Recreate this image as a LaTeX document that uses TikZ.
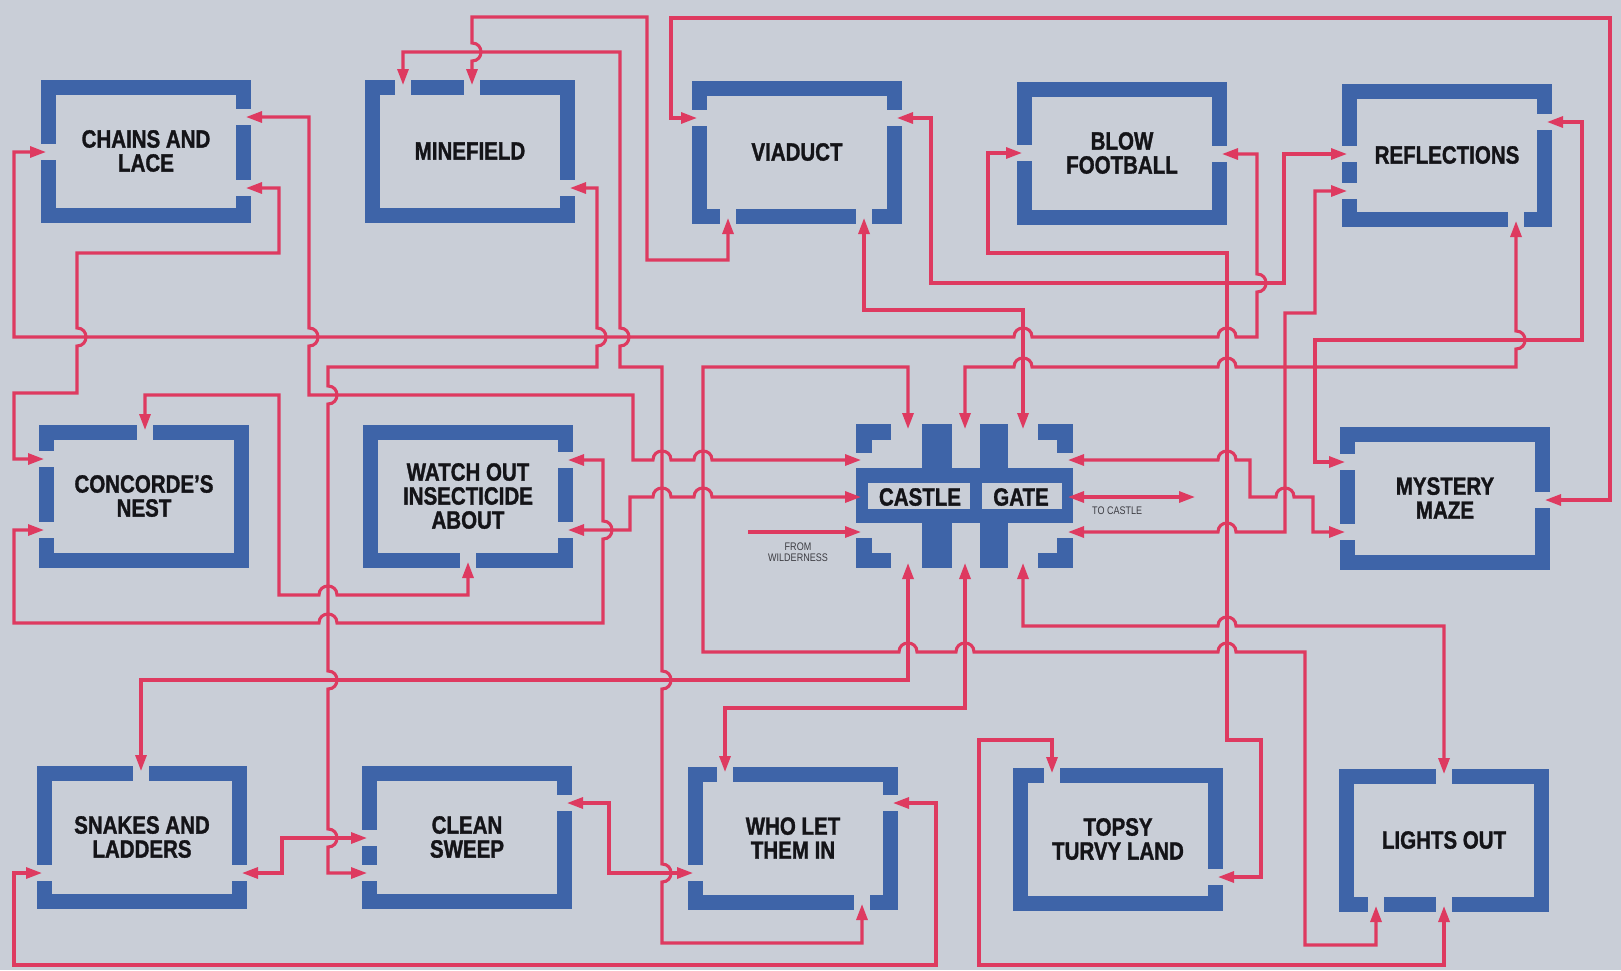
\documentclass[tikz,border=0pt]{standalone}
\usepackage{fontspec}
\setmainfont{Liberation Sans}
\newfontfamily\condfont{Liberation Sans}[FakeStretch=0.82, BoldFeatures={FakeBold=1.3}]
\usetikzlibrary{arrows.meta}
\definecolor{bgc}{RGB}{201,206,215}
\definecolor{boxblue}{RGB}{62,100,168}
\definecolor{wire}{RGB}{222,58,96}
\definecolor{ink}{RGB}{20,20,24}
\definecolor{greyink}{RGB}{60,60,66}
\newcommand\gapv[2]{\fill[bgc] ({#1-10},{#2-8}) rectangle ({#1+10},{#2+8});}
\newcommand\gaph[2]{\fill[bgc] ({#1-8},{#2-10}) rectangle ({#1+8},{#2+10});}
\newcommand\hopR[2]{-- ({#1-9},#2) .. controls ({#1-9},{#2-12}) and ({#1+9},{#2-12}) .. ({#1+9},#2)}
\newcommand\hopL[2]{-- ({#1+9},#2) .. controls ({#1+9},{#2-12}) and ({#1-9},{#2-12}) .. ({#1-9},#2)}
\newcommand\hopD[2]{-- (#1,{#2-9}) .. controls ({#1+12},{#2-9}) and ({#1+12},{#2+9}) .. (#1,{#2+9})}
\newcommand\hopU[2]{-- (#1,{#2+9}) .. controls ({#1+12},{#2+9}) and ({#1+12},{#2-9}) .. (#1,{#2-9})}
\begin{document}
\begin{tikzpicture}[x=1pt,y=-1pt,
  room/.style={draw=boxblue, line width=15pt, minimum width=195pt, minimum height=128pt, inner sep=0pt, align=center, text=ink, font=\condfont\bfseries\fontsize{25}{24}\selectfont},
  gatetext/.style={inner sep=0pt, text=ink, font=\condfont\bfseries\fontsize{25}{24}\selectfont},
  wireline/.style={draw=wire, line width=3.1pt, line join=miter},
  dbl/.style={wireline, {Triangle[length=16pt,width=11pt]}-{Triangle[length=16pt,width=11pt]}},
  sgl/.style={wireline, -{Triangle[length=16pt,width=11pt]}},
  small/.style={text=greyink, font=\condfont\fontsize{11}{11}\selectfont, align=center, inner sep=0pt}
]
\useasboundingbox (0,0) rectangle (1621,970);
\fill[bgc] (0,0) rectangle (1621,970);

% rooms
\node[room] (chains) at (146,151) {CHAINS AND\\LACE};
\node[room] (minefield) at (470,151) {MINEFIELD};
\node[room] (viaduct) at (797,152) {VIADUCT};
\node[room] (blow) at (1122,153) {BLOW\\FOOTBALL};
\node[room] (reflections) at (1447,155) {REFLECTIONS};
\node[room] (concorde) at (144,496) {CONCORDE’S\\NEST};
\node[room] (watch) at (468,496) {WATCH OUT\\INSECTICIDE\\ABOUT};
\node[room] (mystery) at (1445,498) {MYSTERY\\MAZE};
\node[room] (snakes) at (142,837) {SNAKES AND\\LADDERS};
\node[room] (clean) at (467,837) {CLEAN\\SWEEP};
\node[room] (who) at (793,838) {WHO LET\\THEM IN};
\node[room] (topsy) at (1118,839) {TOPSY\\TURVY LAND};
\node[room] (lights) at (1444,840) {LIGHTS OUT};

% doorways
\gapv{48.5}{152} \gapv{243.5}{117} \gapv{243.5}{188}
\gaph{403}{87} \gaph{472}{87} \gapv{567.5}{188}
\gapv{699.5}{118} \gapv{894.5}{118} \gaph{728}{216} \gaph{864}{216}
\gapv{1024.5}{153} \gapv{1219.5}{154}
\gapv{1349.5}{154} \gapv{1349.5}{191} \gapv{1544.5}{122} \gaph{1516}{219}
\gaph{145}{432} \gapv{46.5}{459} \gapv{46.5}{530}
\gaph{468}{560} \gapv{565.5}{460} \gapv{565.5}{530}
\gapv{1347.5}{462} \gapv{1347.5}{532} \gapv{1542.5}{500}
\gaph{141}{773} \gapv{44.5}{873} \gapv{239.5}{873}
\gapv{369.5}{838} \gapv{369.5}{873} \gapv{564.5}{803}
\gaph{725}{774} \gapv{695.5}{873} \gapv{890.5}{803} \gaph{862}{902}
\gaph{1052}{775} \gapv{1215.5}{877}
\gaph{1444}{776} \gaph{1376}{904} \gaph{1444}{904}

% castle gate
\fill[boxblue] (922,424) rectangle (952,568);
\fill[boxblue] (980,424) rectangle (1008,568);
\fill[boxblue] (856,468) rectangle (1073,523);
\fill[bgc] (868,483) rectangle (970,509);
\fill[bgc] (982,483) rectangle (1062,509);
\fill[boxblue] (856,424) rectangle (891,440);
\fill[boxblue] (856,424) rectangle (872,453);
\fill[boxblue] (1038,424) rectangle (1073,440);
\fill[boxblue] (1057,424) rectangle (1073,453);
\fill[boxblue] (856,553) rectangle (891,568);
\fill[boxblue] (856,538) rectangle (872,568);
\fill[boxblue] (1038,553) rectangle (1073,568);
\fill[boxblue] (1057,538) rectangle (1073,568);
\node[gatetext] (castle) at (920,497) {CASTLE};
\node[gatetext] (gate) at (1021,497) {GATE};

% ports
\coordinate (chL) at (46,152);
\coordinate (chR1) at (246,117);
\coordinate (chR2) at (246,188);
\coordinate (mfT1) at (403,85);
\coordinate (mfT2) at (472,85);
\coordinate (mfR) at (570,188);
\coordinate (viL) at (697,118);
\coordinate (viR) at (897,118);
\coordinate (viB1) at (728,218);
\coordinate (viB2) at (864,218);
\coordinate (blL) at (1022,153);
\coordinate (blR) at (1222,154);
\coordinate (reL1) at (1347,154);
\coordinate (reL2) at (1347,191);
\coordinate (reR) at (1547,122);
\coordinate (reB) at (1516,221);
\coordinate (coT) at (145,430);
\coordinate (coL1) at (44,459);
\coordinate (coL2) at (44,530);
\coordinate (waB) at (468,562);
\coordinate (waR1) at (568,460);
\coordinate (waR2) at (568,530);
\coordinate (myL1) at (1345,462);
\coordinate (myL2) at (1345,532);
\coordinate (myR) at (1545,500);
\coordinate (snT) at (141,771);
\coordinate (snL) at (42,873);
\coordinate (snR) at (242,873);
\coordinate (clL1) at (367,838);
\coordinate (clL2) at (367,873);
\coordinate (clR) at (567,803);
\coordinate (whT) at (725,772);
\coordinate (whL) at (693,873);
\coordinate (whR) at (893,803);
\coordinate (whB) at (862,904);
\coordinate (toT) at (1052,773);
\coordinate (toR) at (1218,877);
\coordinate (liT) at (1444,774);
\coordinate (liB1) at (1376,906);
\coordinate (liB2) at (1444,906);
\coordinate (caT1) at (908,429);
\coordinate (caT2) at (965,429);
\coordinate (caT3) at (1023,429);
\coordinate (caB1) at (908,563);
\coordinate (caB2) at (965,563);
\coordinate (caB3) at (1023,563);
\coordinate (caL1) at (861,460);
\coordinate (caL2) at (861,497);
\coordinate (caL3) at (861,532);
\coordinate (caR1) at (1068,460);
\coordinate (caR2) at (1068,497);
\coordinate (caR3) at (1068,532);
\coordinate (wild) at (748,532);
\coordinate (tocastle) at (1195,497);

% connectors
\draw[dbl] (chL) -- (14,152) -- (14,337) \hopR{1023}{337} \hopR{1227}{337} -- (1257,337) \hopU{1257}{283} -- (1257,154) -- (blR);
\draw[dbl] (chR1) -- (309,117) \hopD{309}{337} -- (309,395) -- (633,395) -- (633,460) \hopR{662}{460} \hopR{703}{460} -- (caL1);
\draw[dbl] (chR2) -- (279,188) -- (279,253) -- (77,253) \hopD{77}{337} -- (77,393) -- (14,393) -- (14,459) -- (coL1);
\draw[dbl] (mfT1) -- (403,52) -- (620,52) \hopD{620}{337} -- (620,367) -- (662,367) \hopD{662}{680} \hopD{662}{873} -- (662,943) -- (862,943) -- (whB);
\draw[dbl] (mfT2) \hopU{472}{52} -- (472,17) -- (647,17) -- (647,260) -- (728,260) -- (viB1);
\draw[dbl] (mfR) -- (597,188) \hopD{597}{337} -- (597,367) -- (328,367) \hopD{328}{395} \hopD{328}{680} \hopD{328}{838} -- (328,873) -- (clL2);
\draw[dbl] (viL) -- (671,118) -- (671,18) -- (1610,18) -- (1610,500) -- (myR);
\draw[dbl] (viR) -- (931,118) -- (931,283) -- (1284,283) -- (1284,154) -- (reL1);
\draw[dbl] (viB2) -- (864,310) -- (1023,310) -- (caT3);
\draw[dbl] (blL) -- (988,153) -- (988,253) -- (1227,253) -- (1227,740) -- (1261,740) -- (1261,877) -- (toR);
\draw[dbl] (reL2) -- (1315,191) -- (1315,313) -- (1285,313) -- (1285,532) \hopL{1227}{532} -- (caR3);
\draw[dbl] (reR) -- (1582,122) -- (1582,340) -- (1315,340) -- (1315,462) -- (myL1);
\draw[dbl] (reB) \hopD{1516}{340} -- (1516,367) \hopL{1227}{367} \hopL{1023}{367} -- (965,367) -- (caT2);
\draw[dbl] (caR1) \hopR{1227}{460} -- (1250,460) -- (1250,497) \hopR{1285}{497} -- (1313,497) -- (1313,532) -- (myL2);
\draw[dbl] (caR2) -- (tocastle);
\draw[dbl] (waR2) -- (630,530) -- (630,497) \hopR{662}{497} \hopR{703}{497} -- (caL2);
\draw[dbl] (coL2) -- (14,530) -- (14,623) \hopR{328}{623} -- (603,623) \hopU{603}{530} -- (603,460) -- (waR1);
\draw[dbl] (coT) -- (145,395) -- (279,395) -- (279,595) \hopR{328}{595} -- (468,595) -- (waB);
\draw[sgl] (wild) -- (caL3);
\draw[dbl] (caT1) -- (908,367) -- (703,367) -- (703,652) \hopR{908}{652} \hopR{965}{652} \hopR{1227}{652} -- (1305,652) -- (1305,945) -- (1376,945) -- (liB1);
\draw[dbl] (snT) -- (141,680) -- (908,680) -- (caB1);
\draw[dbl] (caB2) -- (965,708) -- (725,708) -- (whT);
\draw[dbl] (caB3) -- (1023,626) \hopR{1227}{626} -- (1444,626) -- (liT);
\draw[dbl] (toT) -- (1052,740) -- (979,740) -- (979,965) -- (1444,965) -- (liB2);
\draw[dbl] (snL) -- (14,873) -- (14,965) -- (936,965) -- (936,803) -- (whR);
\draw[dbl] (snR) -- (282,873) -- (282,838) -- (clL1);
\draw[dbl] (clR) -- (609,803) -- (609,873) -- (whL);

% labels
\node[small] (fromwild) at (798,552) {FROM\\WILDERNESS};
\node[small, anchor=west] (tocastlelbl) at (1092,511) {TO CASTLE};
\end{tikzpicture}
\end{document}
